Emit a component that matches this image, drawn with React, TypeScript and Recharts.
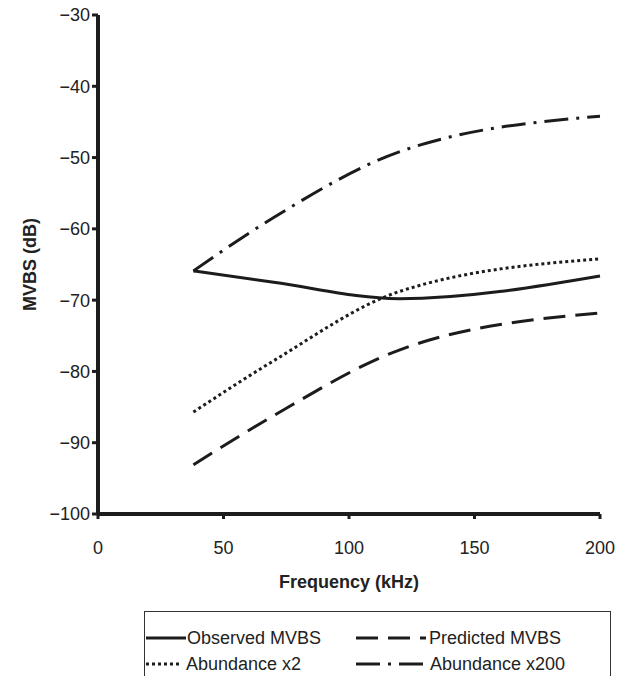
import { LineChart, Line, XAxis, YAxis } from "recharts";

const frequencies = [38, 70, 120, 200];
const observedMvbs = [-65.9, -67.5, -69.8, -66.6];
const predictedMvbs = [-93.1, -86.2, -77.0, -71.8];
const abundanceX2 = [-85.7, -78.5, -68.8, -64.2];
const abundanceX200 = [-65.9, -58.4, -49.2, -44.2];

const xTicks = [0, 50, 100, 150, 200];
const yTicks = [-100, -90, -80, -70, -60, -50, -40, -30];

const data = frequencies.map((f, i) => ({
  freq: f,
  observed: observedMvbs[i],
  predicted: predictedMvbs[i],
  x2: abundanceX2[i],
  x200: abundanceX200[i],
}));

const INK = "#1c1c1c";
const FONT = "'Liberation Sans', Arial, sans-serif";

const series = [
  { key: "observed", name: "Observed MVBS", dash: undefined },
  { key: "predicted", name: "Predicted MVBS", dash: "22 10" },
  { key: "x2", name: "Abundance x2", dash: "3 3" },
  { key: "x200", name: "Abundance x200", dash: "24 8 3 8" },
];

const fmt = (v: number) => String(v).replace("-", "\u2212");

function LegendItem({ name, dash, width, gap }: { name: string; dash?: string; width: number; gap: number }) {
  return (
    <div style={{ display: "flex", alignItems: "center", height: 26 }}>
      <svg width={width} height={10} style={{ display: "block" }}>
        <line x1={0} y1={5} x2={width} y2={5} stroke={INK} strokeWidth={3} strokeDasharray={dash} />
      </svg>
      <span style={{ marginLeft: gap, fontSize: 18, color: "#222", fontFamily: FONT, whiteSpace: "nowrap" }}>{name}</span>
    </div>
  );
}

export default function App() {
  const axisLine = { stroke: INK, strokeWidth: 4 };
  const tickLine = { stroke: INK, strokeWidth: 3 };
  return (
    <div style={{ position: "absolute", left: 0, top: 0, width: 620, height: 676, background: "#fff", overflow: "hidden" }}>
      <LineChart width={620} height={676} data={data} margin={{ top: 15, right: 20, left: 0, bottom: 82 }}>
        <XAxis
          dataKey="freq"
          type="number"
          domain={[0, 200]}
          ticks={xTicks}
          interval={0}
          height={80}
          stroke={INK}
          strokeWidth={4}
          axisLine={axisLine}
          tickLine={tickLine}
          tickSize={5}
          tickMargin={22}
          tick={{ fill: "#222", fontSize: 18, fontFamily: FONT }}
          label={{
            value: "Frequency (kHz)",
            position: "insideTop",
            offset: 61,
            style: { fontWeight: "bold", fontSize: 18, fill: "#222", fontFamily: FONT },
          }}
        />
        <YAxis
          type="number"
          domain={[-100, -30]}
          ticks={yTicks}
          interval={0}
          width={98}
          stroke={INK}
          strokeWidth={4}
          axisLine={axisLine}
          tickLine={tickLine}
          tickSize={6}
          tickMargin={2}
          tickFormatter={fmt}
          tick={{ fill: "#222", fontSize: 18, fontFamily: FONT }}
          label={{
            value: "MVBS (dB)",
            angle: -90,
            position: "insideLeft",
            offset: 30,
            style: { textAnchor: "middle", fontWeight: "bold", fontSize: 18, fill: "#222", fontFamily: FONT },
          }}
        />
        {series.map((s) => (
          <Line
            key={s.key}
            type="monotone"
            dataKey={s.key}
            name={s.name}
            stroke={INK}
            strokeWidth={3}
            strokeDasharray={s.dash}
            dot={false}
            activeDot={false}
            isAnimationActive={false}
          />
        ))}
      </LineChart>
      <div
        style={{
          position: "absolute",
          left: 144,
          top: 611,
          width: 467,
          height: 80,
          border: "1.5px solid #333",
          boxSizing: "border-box",
        }}
      >
        <div style={{ position: "absolute", left: 1, top: 13 }}>
          <LegendItem name={series[0].name} dash={series[0].dash} width={40} gap={1} />
          <LegendItem name={series[2].name} dash={series[2].dash} width={35} gap={5} />
        </div>
        <div style={{ position: "absolute", left: 211, top: 13 }}>
          <LegendItem name={series[1].name} dash={series[1].dash} width={70} gap={3} />
          <LegendItem name={series[3].name} dash={series[3].dash} width={69} gap={5} />
        </div>
      </div>
    </div>
  );
}
